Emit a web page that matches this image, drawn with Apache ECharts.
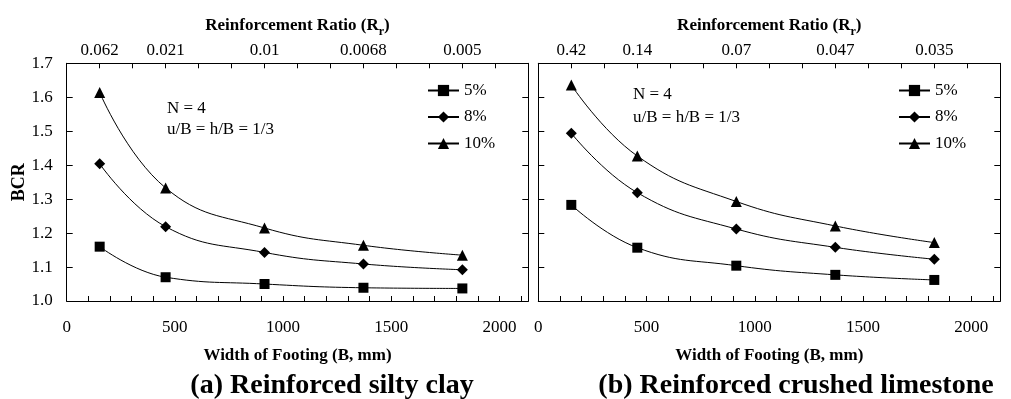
<!DOCTYPE html>
<html><head><meta charset="utf-8">
<script src="https://cdn.jsdelivr.net/npm/echarts@6/dist/echarts.min.js"></script>
<style>html,body{margin:0;padding:0;background:#fff}#c{width:1011px;height:399px}</style>
</head><body><div id="c"></div>
<script>
// ---- data ----
const footingWidths = [152.4, 457.2, 914.4, 1371.6, 1828.8];
const seriesNames = ['5%', '8%', '10%'];
const rrClayLabels = ['0.062', '0.021', '0.01', '0.0068', '0.005'];
const rrLimeLabels = ['0.42', '0.14', '0.07', '0.047', '0.035'];
const clay5 = [1.160, 1.070, 1.050, 1.039, 1.037];
const clay8 = [1.404, 1.219, 1.143, 1.109, 1.092];
const clay10 = [1.614, 1.333, 1.215, 1.164, 1.135];
const lime5 = [1.283, 1.157, 1.104, 1.077, 1.062];
const lime8 = [1.494, 1.319, 1.212, 1.158, 1.123];
const lime10 = [1.636, 1.427, 1.293, 1.221, 1.172];
const bottomTickLabels = [0, 500, 1000, 1500, 2000];
const symbols = ['rect', 'diamond', 'triangle'];
const symbolSizes = [10, 11, 11];

const FONT = '"Liberation Serif", "Times New Roman", serif';
const chart = echarts.init(document.getElementById('c'));

const gridsPos = [{left: 66.7, top: 63.3, width: 461.6, height: 237.7},
                  {left: 538.3, top: 63.3, width: 462, height: 237.7}];
const XMAX = 2133.6;

function bottomAxis(gi) {
  return {
    type: 'value', gridIndex: gi, position: 'bottom', min: 0, max: XMAX, interval: 100,
    axisLine: {show: true, onZero: false, lineStyle: {color: '#000', width: 1}},
    axisTick: {show: true, inside: true, length: 5, lineStyle: {color: '#000'}},
    axisLabel: {show: true, margin: 18, color: '#000', fontFamily: FONT, fontSize: 17,
      formatter: v => (Math.abs(v - Math.round(v)) < 1e-6 && bottomTickLabels.includes(Math.round(v))) ? String(Math.round(v)) : ''},
    splitLine: {show: false},
    name: 'Width of Footing (B, mm)', nameLocation: 'middle', nameGap: 46, nameMoveOverlap: false,
    nameTextStyle: {color: '#000', fontFamily: FONT, fontSize: 17, fontWeight: 'bold', verticalAlign: 'top'}
  };
}
function topAxis(gi, labels) {
  return {
    type: 'value', gridIndex: gi, position: 'top', min: 0, max: XMAX, interval: 152.4,
    axisLine: {show: true, onZero: false, lineStyle: {color: '#000', width: 1}},
    axisTick: {show: true, inside: true, length: 5, lineStyle: {color: '#000'}},
    axisLabel: {show: true, margin: 4, color: '#000', fontFamily: FONT, fontSize: 17,
      formatter: v => { const i = footingWidths.findIndex(w => Math.abs(w - v) < 1); return i >= 0 ? labels[i] : ''; }},
    splitLine: {show: false},
    name: '{a|Reinforcement Ratio (R}{s|r}{a|)}', nameLocation: 'middle', nameGap: 29, nameMoveOverlap: false,
    nameTextStyle: {rich: {
      a: {color: '#000', fontFamily: FONT, fontSize: 17, fontWeight: 'bold', lineHeight: 20, verticalAlign: 'bottom'},
      s: {color: '#000', fontFamily: FONT, fontSize: 12, fontWeight: 'bold', lineHeight: 20, verticalAlign: 'bottom', padding: [0, 0, -4, 0]}
    }}
  };
}
function yAxisDef(gi, pos, showLabel, name) {
  const o = {
    type: 'value', gridIndex: gi, position: pos, min: 1.0, max: 1.7, interval: 0.1,
    axisLine: {show: true, onZero: false, lineStyle: {color: '#000', width: 1}},
    axisTick: {show: true, inside: true, length: 6, lineStyle: {color: '#000'}},
    axisLabel: {show: showLabel, margin: 14, color: '#000', fontFamily: FONT, fontSize: 17, formatter: v => v.toFixed(1)},
    splitLine: {show: false}
  };
  if (name) {
    o.name = name; o.nameLocation = 'middle'; o.nameGap = 38; o.nameMoveOverlap = false;
    o.nameTextStyle = {color: '#000', fontFamily: FONT, fontSize: 18, fontWeight: 'bold'};
  }
  return o;
}

const datasets = [[clay5, clay8, clay10], [lime5, lime8, lime10]];
const series = [];
datasets.forEach((set, gi) => {
  set.forEach((vals, k) => {
    series.push({
      name: seriesNames[k], type: 'line', xAxisIndex: gi * 2, yAxisIndex: gi * 2,
      data: footingWidths.map((x, i) => [x, vals[i]]),
      symbol: symbols[k], symbolSize: symbolSizes[k], showSymbol: true, smooth: 0.45,
      lineStyle: {color: '#000', width: 1}, itemStyle: {color: '#000'},
      emphasis: {disabled: true}, animation: false
    });
  });
});

function legendDef(left) {
  return {
    data: seriesNames, orient: 'vertical', left: left, top: 82, padding: 0,
    itemWidth: 31, itemHeight: 14, itemGap: 9.5, selectedMode: false,
    textStyle: {color: '#000', fontFamily: FONT, fontSize: 17}
  };
}

const annFont = '17px ' + FONT;
chart.setOption({
  backgroundColor: '#fff',
  animation: false,
  grid: gridsPos.map(g => Object.assign({containLabel: false, outerBoundsMode: 'none'}, g)),
  xAxis: [bottomAxis(0), topAxis(0, rrClayLabels), bottomAxis(1), topAxis(1, rrLimeLabels)],
  yAxis: [yAxisDef(0, 'left', true, 'BCR'), yAxisDef(0, 'right', false), yAxisDef(1, 'left', false), yAxisDef(1, 'right', false)],
  legend: [legendDef(427), legendDef(898)],
  series: series,
  graphic: [
    {type: 'text', x: 167, y: 109, style: {text: 'N = 4', font: annFont, fill: '#000', align: 'left', verticalAlign: 'middle'}},
    {type: 'text', x: 167, y: 130, style: {text: 'u/B = h/B = 1/3', font: annFont, fill: '#000', align: 'left', verticalAlign: 'middle'}},
    {type: 'text', x: 633, y: 95, style: {text: 'N = 4', font: annFont, fill: '#000', align: 'left', verticalAlign: 'middle'}},
    {type: 'text', x: 633, y: 118, style: {text: 'u/B = h/B = 1/3', font: annFont, fill: '#000', align: 'left', verticalAlign: 'middle'}},
    {type: 'text', x: 332, y: 386, style: {text: '(a) Reinforced silty clay', font: 'bold 28px ' + FONT, fill: '#000', align: 'center', verticalAlign: 'middle'}},
    {type: 'text', x: 796, y: 386, style: {text: '(b) Reinforced crushed limestone', font: 'bold 28px ' + FONT, fill: '#000', align: 'center', verticalAlign: 'middle'}}
  ]
});
</script></body></html>
